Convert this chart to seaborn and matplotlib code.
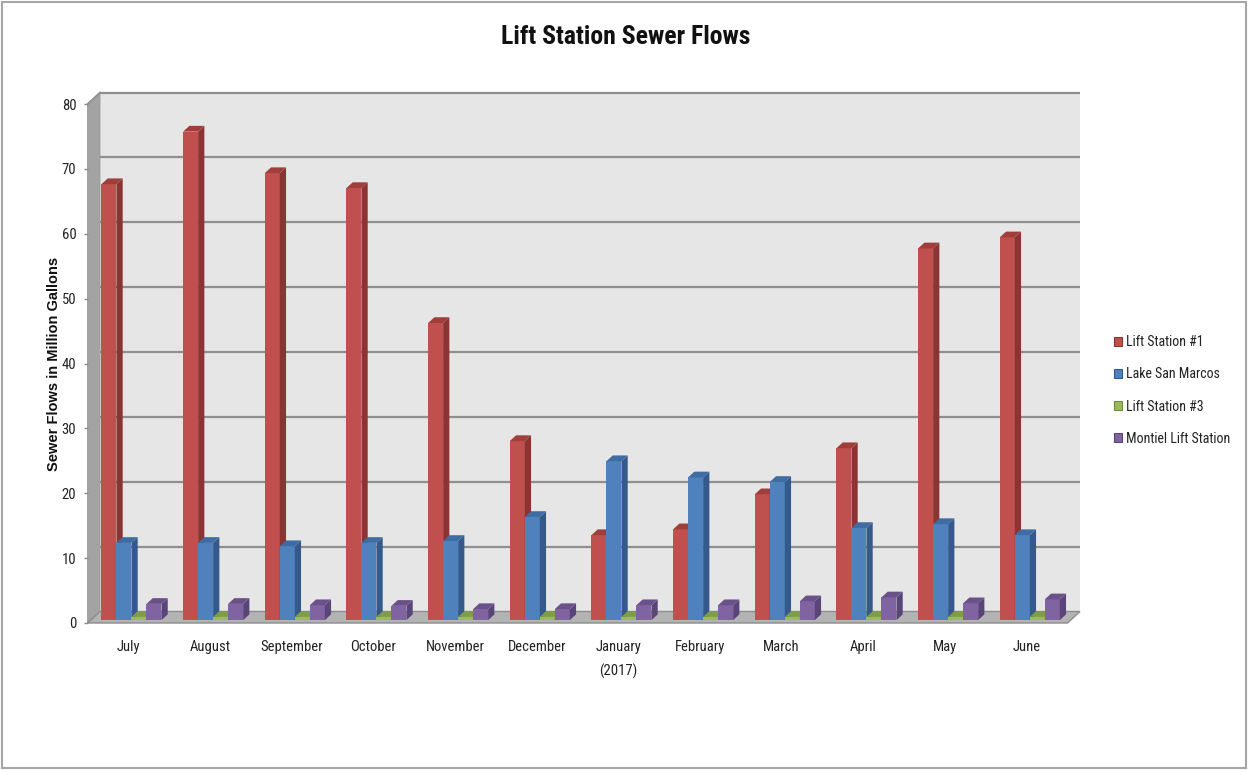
import numpy as np
import pandas as pd
import matplotlib
matplotlib.use("Agg")
import matplotlib.pyplot as plt
from matplotlib import font_manager, transforms
from matplotlib.patches import Polygon, Rectangle
import seaborn as sns

# ---- data (million gallons per month) ----
months = ["July", "August", "September", "October", "November", "December",
          "January\n(2017)", "February", "March", "April", "May", "June"]
stations = ["Lift Station #1", "Lake San Marcos", "Lift Station #3", "Montiel Lift Station"]
lift_station_1 = [67.2, 75.3, 68.9, 66.6, 45.8, 27.6, 13.1, 14.0, 19.4, 26.5, 57.3, 59.0]
lake_san_marcos = [11.9, 11.9, 11.4, 11.9, 12.2, 15.9, 24.5, 22.0, 21.3, 14.2, 14.8, 13.1]
lift_station_3 = [0.5, 0.5, 0.5, 0.5, 0.5, 0.5, 0.5, 0.5, 0.5, 0.5, 0.5, 0.5]
montiel = [2.5, 2.5, 2.3, 2.2, 1.7, 1.7, 2.3, 2.3, 2.9, 3.5, 2.6, 3.2]
y_ticks = [0, 10, 20, 30, 40, 50, 60, 70, 80]

front_colors = ["#c0504d", "#4f81bd", "#9bbb59", "#8064a2"]
side_colors = ["#8a3533", "#34598a", "#6e8a3c", "#5a4578"]
top_colors = ["#a03e3b", "#3e6ca3", "#7e9d46", "#6a5189"]

wide = pd.DataFrame({"Month": months,
                     stations[0]: lift_station_1,
                     stations[1]: lake_san_marcos,
                     stations[2]: lift_station_3,
                     stations[3]: montiel})
long = wide.melt(id_vars="Month", var_name="Station", value_name="Flow")

# ---- fonts ----
available = {f.name for f in font_manager.fontManager.ttflist}


def pick(*names):
    for n in names:
        if n in available:
            return n
    return "DejaVu Sans"


narrow = pick("Liberation Sans Narrow", "Roboto Condensed", "Liberation Sans")
plain = pick("Liberation Sans", "DejaVu Sans")
plt.rcParams["font.family"] = [narrow, "DejaVu Sans"]

W, H = 1248, 770
fig = plt.figure(figsize=(W / 100, H / 100), dpi=100)
fig.patch.set_facecolor("white")

# front plane of the 3-D box, in pixels
x_left, x_right = 87.5, 1067.5
y_zero, y_top = 623, 104
ax = fig.add_axes([x_left / W, (H - y_zero) / H, (x_right - x_left) / W, (y_zero - y_top) / H])

sns.barplot(data=long, x="Month", y="Flow", hue="Station", order=months,
            hue_order=stations, palette=front_colors, width=0.735, saturation=1,
            errorbar=None, legend=False, linewidth=0, ax=ax)

n = len(months)
ax.set_xlim(-0.5, n - 0.5)
ax.set_ylim(0, 80)
ax.set_facecolor("none")
for s in ax.spines.values():
    s.set_visible(False)

# depth of the box, converted to data units
depth_px = (12.5, 11.5)
ux = ax.bbox.width / n
uy = ax.bbox.height / 80.0
ddx, ddy = depth_px[0] / ux, depth_px[1] / uy

# back wall, side wall, floor
x0, x1 = -0.5, n - 0.5
ax.add_patch(Rectangle((x0 + ddx, ddy), n, 80, facecolor="#e6e6e6", edgecolor="none",
                       zorder=0.5, clip_on=False))
ax.add_patch(Polygon([(x0, 0), (x0, 80), (x0 + ddx, 80 + ddy), (x0 + ddx, ddy)],
                     closed=True, facecolor="#a3a3a3", edgecolor="#9a9a9a", lw=0.6,
                     zorder=0.6, clip_on=False))
for v in y_ticks[1:]:
    ax.plot([x0 + ddx, x1 + ddx], [v + ddy, v + ddy], color="#8f8f8f", lw=1.6,
            zorder=0.7, clip_on=False, solid_capstyle="butt")
ax.plot([x0, x0 + ddx], [80, 80 + ddy], color="#8f8f8f", lw=1.2, zorder=0.7, clip_on=False)
ax.add_patch(Polygon([(x0, 0), (x1, 0), (x1 + ddx, ddy), (x0 + ddx, ddy)],
                     closed=True, facecolor="#b3b3b3", edgecolor="#8c8c8c", lw=1.0,
                     zorder=1.0, clip_on=False))

# 3-D bars: shift the front faces into the box and add side and top faces
front_frac, bar_frac = 0.25, 0.5
shift = transforms.offset_copy(ax.transData, fig=fig, x=depth_px[0] * front_frac,
                               y=depth_px[1] * front_frac, units="dots")
bdx, bdy = ddx * bar_frac, ddy * bar_frac
for k, container in enumerate(ax.containers):
    for p in container.patches:
        bx, bw, bh = p.get_x(), p.get_width(), p.get_height()
        z = 2 + (bx + 1) / 100.0
        p.set_transform(shift)
        p.set_zorder(z)
        p.set_clip_on(False)
        side = Polygon([(bx + bw, 0), (bx + bw, bh), (bx + bw + bdx, bh + bdy), (bx + bw + bdx, bdy)],
                       closed=True, facecolor=side_colors[k], edgecolor="none",
                       transform=shift, zorder=z, clip_on=False)
        top = Polygon([(bx, bh), (bx + bw, bh), (bx + bw + bdx, bh + bdy), (bx + bdx, bh + bdy)],
                      closed=True, facecolor=top_colors[k], edgecolor="none",
                      transform=shift, zorder=z, clip_on=False)
        ax.add_patch(side)
        ax.add_patch(top)

# axes text
ax.set_yticks(y_ticks)
ax.set_yticklabels([str(v) for v in y_ticks])
ax.tick_params(axis="y", length=3, width=1, color="#8c8c8c", pad=5,
               labelsize=10.5, labelcolor="#222222")
ax.tick_params(axis="x", length=0, pad=12.5, labelsize=10.5, labelcolor="#222222")
for t in ax.get_xticklabels():
    t.set_linespacing(1.75)
ax.set_xlabel("")
ax.set_ylabel("Sewer Flows in Million Gallons", fontsize=10.5, fontweight="bold",
              family=[plain, "DejaVu Sans"], color="#111111")
ax.yaxis.set_label_coords(-0.027, 0.5)

fig.text(626 / W, 1 - 37 / H, "Lift Station Sewer Flows", ha="center", va="center",
         fontsize=18.5, fontweight="bold", color="#111111")

handles = [Rectangle((0, 0), 1, 1, facecolor=c, edgecolor=s, lw=0.8)
           for c, s in zip(front_colors, side_colors)]
fig.legend(handles, stations, loc="center left", bbox_to_anchor=(1114 / W, 1 - 390.5 / H),
           frameon=False, fontsize=10, handlelength=0.6, handleheight=0.6,
           handletextpad=0.3, labelspacing=1.3, borderpad=0, borderaxespad=0,
           labelcolor="#222222")

# outer frame
fig.add_artist(Rectangle((2 / W, 2 / H), 1 - 4 / W, 1 - 4 / H, transform=fig.transFigure,
                         facecolor="none", edgecolor="#a6a6a6", lw=1.5))

fig.savefig("out.png", dpi=100)
